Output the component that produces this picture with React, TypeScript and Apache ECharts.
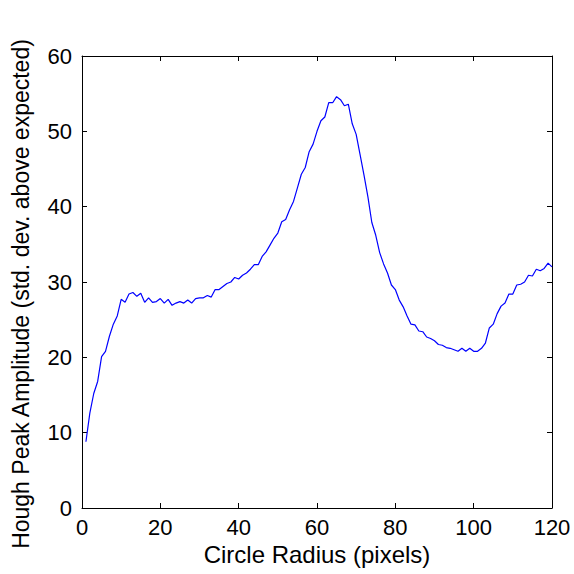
import React, { useEffect, useRef } from "react";
import * as echarts from "echarts";

const radii = [
  1, 2, 3, 4, 5, 6, 7, 8, 9, 10, 11, 12, 13, 14, 15, 16, 17, 18, 19, 20,
  21, 22, 23, 24, 25, 26, 27, 28, 29, 30, 31, 32, 33, 34, 35, 36, 37, 38, 39, 40,
  41, 42, 43, 44, 45, 46, 47, 48, 49, 50, 51, 52, 53, 54, 55, 56, 57, 58, 59, 60,
  61, 62, 63, 64, 65, 66, 67, 68, 69, 70, 71, 72, 73, 74, 75, 76, 77, 78, 79, 80,
  81, 82, 83, 84, 85, 86, 87, 88, 89, 90, 91, 92, 93, 94, 95, 96, 97, 98, 99, 100,
  101, 102, 103, 104, 105, 106, 107, 108, 109, 110, 111, 112, 113, 114, 115, 116, 117, 118, 119, 120,
];

const amplitude = [
  8.8, 12.6, 15.2, 16.8, 20.1, 20.8, 22.8, 24.4, 25.5, 27.7,
  27.3, 28.4, 28.6, 28.1, 28.5, 27.3, 27.9, 27.3, 27.4, 27.8,
  27.2, 27.7, 26.9, 27.2, 27.4, 27.2, 27.6, 27.2, 27.8, 27.9,
  27.9, 28.2, 28.0, 29.0, 29.0, 29.4, 29.8, 30.0, 30.6, 30.4,
  30.9, 31.2, 31.7, 32.3, 32.3, 33.4, 34.0, 34.9, 35.8, 36.5,
  38.0, 38.3, 39.6, 40.7, 42.5, 44.3, 45.2, 47.3, 48.3, 50.0,
  51.4, 51.9, 53.8, 53.8, 54.6, 54.2, 53.4, 53.6, 51.0, 49.6,
  46.9, 44.2, 41.3, 37.9, 36.2, 33.9, 32.4, 31.2, 29.6, 29.0,
  27.6, 26.7, 25.5, 24.4, 24.3, 23.5, 23.4, 22.7, 22.5, 22.2,
  21.7, 21.6, 21.3, 21.2, 21.0, 20.8, 21.2, 20.8, 21.2, 20.8,
  20.8, 21.2, 21.9, 23.9, 24.4, 25.8, 26.8, 27.2, 28.4, 28.4,
  29.6, 29.7, 30.0, 30.9, 30.8, 31.7, 31.5, 31.8, 32.5, 32.0,
];

const xTitle = "Circle Radius (pixels)";
const yTitle = "Hough Peak Amplitude (std. dev. above expected)";

const FONT = "'Liberation Sans', Arial, sans-serif";

export default function App() {
  const ref = useRef<HTMLDivElement>(null);

  useEffect(() => {
    if (!ref.current) return;
    const chart = echarts.init(ref.current, undefined, { renderer: "svg" });
    const line = { lineStyle: { color: "#000", width: 1 } };
    const tickIn = { show: true, inside: true, length: 5, lineStyle: { color: "#000", width: 1 } };
    chart.setOption({
      animation: false,
      backgroundColor: "#fff",
      grid: { left: 82, right: 22, top: 56, bottom: 66, containLabel: false },
      xAxis: [
        {
          type: "value",
          min: 0,
          max: 120,
          interval: 20,
          position: "bottom",
          axisLine: { show: true, onZero: false, ...line },
          axisTick: tickIn,
          axisLabel: { color: "#000", fontSize: 22, fontFamily: FONT, margin: 8 },
          splitLine: { show: false },
          name: xTitle,
          nameLocation: "middle",
          nameGap: 29,
          nameTextStyle: { color: "#000", fontSize: 24, fontFamily: FONT },
        },
        {
          type: "value",
          min: 0,
          max: 120,
          interval: 20,
          position: "top",
          axisLine: { show: true, onZero: false, ...line },
          axisTick: tickIn,
          axisLabel: { show: false },
          splitLine: { show: false },
        },
      ],
      yAxis: [
        {
          type: "value",
          min: 0,
          max: 60,
          interval: 10,
          position: "left",
          axisLine: { show: true, onZero: false, ...line },
          axisTick: tickIn,
          axisLabel: { color: "#000", fontSize: 22, fontFamily: FONT, margin: 10 },
          splitLine: { show: false },
          name: yTitle,
          nameLocation: "middle",
          nameGap: 50,
          nameTextStyle: { color: "#000", fontSize: 23, fontFamily: FONT, padding: [0, 24, 0, 0] },
        },
        {
          type: "value",
          min: 0,
          max: 60,
          interval: 10,
          position: "right",
          axisLine: { show: true, onZero: false, ...line },
          axisTick: tickIn,
          axisLabel: { show: false },
          splitLine: { show: false },
        },
      ],
      series: [
        {
          type: "line",
          data: radii.map((r, i) => [r, amplitude[i]]),
          showSymbol: false,
          symbol: "none",
          lineStyle: { color: "#0000ff", width: 1.2 },
          xAxisIndex: 0,
          yAxisIndex: 0,
        },
      ],
    });
    return () => chart.dispose();
  }, []);

  return (
    <div
      ref={ref}
      style={{ position: "fixed", left: 0, top: 0, width: 574, height: 574 }}
    />
  );
}
